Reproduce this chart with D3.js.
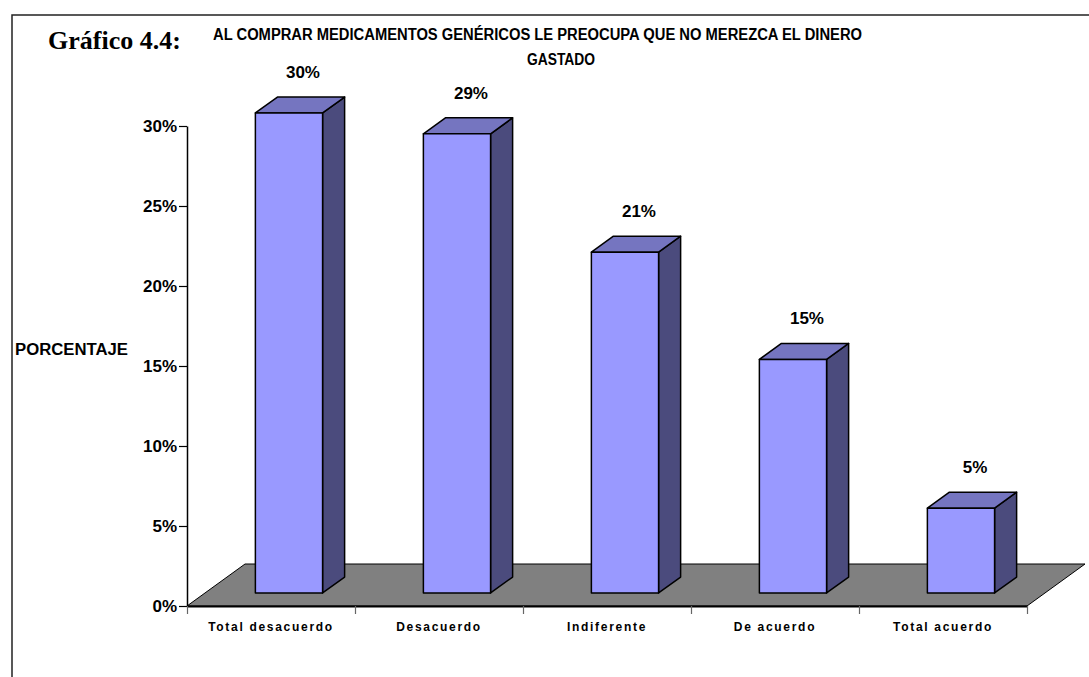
<!DOCTYPE html>
<meta charset="utf-8">
<style>
body { margin: 0; background: #fff; }
text { font-family: "Liberation Sans", Arial, sans-serif; font-weight: bold; fill: #000; }
</style>
<body>
<script src="https://d3js.org/d3.v7.min.js"></script>
<script>

var categories = ["Total desacuerdo", "Desacuerdo", "Indiferente", "De acuerdo", "Total acuerdo"];
var values = [30.0, 28.7, 21.3, 14.6, 5.3];
var valueLabels = ["30%", "29%", "21%", "15%", "5%"];
var yTicks = [0, 5, 10, 15, 20, 25, 30];

var width = 1089,
    height = 677;

var svg = d3.select("body").append("svg")
    .attr("width", width)
    .attr("height", height);

// frame (cut off at right and bottom like the original)
svg.append("rect")
    .attr("x", 12).attr("y", 15)
    .attr("width", 1200).attr("height", 1000)
    .attr("fill", "none")
    .attr("stroke", "#222")
    .attr("stroke-width", 1.5);

var y = d3.scaleLinear().domain([0, 30]).range([606, 126]);
var x = d3.scaleBand().domain(categories).range([187, 1027]);

// 3d depth of the floor
var depthX = 58, depthY = -42;
var f0 = 0.31, f1 = 0.69;  // bar front / back inside the depth
function pt(px, v, f) { return [px + f * depthX, y(v) + f * depthY]; }

// floor
var floor = [pt(x.range()[0], 0, 0), pt(x.range()[0], 0, 1), pt(x.range()[1], 0, 1), pt(x.range()[1], 0, 0)];
svg.append("polygon")
    .attr("points", floor.join(" "))
    .attr("fill", "#808080")
    .attr("stroke", "#000")
    .attr("stroke-width", 1);

// bars
var bw = x.bandwidth() * 0.4;
var bars = svg.append("g").selectAll("g")
    .data(categories)
    .enter().append("g");

bars.each(function(c, i) {
  var g = d3.select(this);
  var l = x(c) + (x.bandwidth() - bw) / 2, r = l + bw, v = values[i];
  var front = [pt(l, 0, f0), pt(l, v, f0), pt(r, v, f0), pt(r, 0, f0)];
  var side = [pt(r, 0, f0), pt(r, v, f0), pt(r, v, f1), pt(r, 0, f1)];
  var top = [pt(l, v, f0), pt(l, v, f1), pt(r, v, f1), pt(r, v, f0)];
  g.append("polygon").attr("points", side.join(" ")).attr("fill", "#4b4b7d");
  g.append("polygon").attr("points", top.join(" ")).attr("fill", "#7575c0");
  g.append("polygon").attr("points", front.join(" ")).attr("fill", "#9999ff");
  g.selectAll("polygon").attr("stroke", "#000").attr("stroke-width", 1.5).attr("stroke-linejoin", "round");
  var lx = pt(l + bw / 2 + 14, v, f0)[0], ly = pt(l, v, f1)[1];
  g.append("text")
      .attr("x", lx).attr("y", ly - 19)
      .attr("text-anchor", "middle")
      .style("font-size", "17px")
      .text(valueLabels[i]);
});

// y axis
var yAxis = svg.append("g")
    .attr("transform", "translate(187,0)")
    .call(d3.axisLeft(y).tickValues(yTicks).tickSize(8).tickSizeOuter(0).tickPadding(2)
      .tickFormat(function(d) { return d + "%"; }));
yAxis.select(".domain").attr("stroke", "#000").attr("stroke-width", 1.5);
yAxis.selectAll(".tick line").attr("stroke", "#000").attr("stroke-width", 1.2);
yAxis.selectAll(".tick text").style("font-size", "17px").style("font-family", "Liberation Sans, Arial, sans-serif").attr("fill", "#000");

// x axis: boundary ticks + centered labels
var xb = d3.scaleLinear().domain([0, categories.length]).range(x.range());
var xAxis = svg.append("g")
    .attr("transform", "translate(0,606)")
    .call(d3.axisBottom(xb).tickValues(d3.range(categories.length + 1)).tickSize(8).tickSizeOuter(0).tickFormat(""));
xAxis.select(".domain").attr("stroke", "#000").attr("stroke-width", 2);
xAxis.selectAll(".tick line").attr("stroke", "#666").attr("stroke-width", 1.2);

svg.append("g").selectAll("text")
    .data(categories)
    .enter().append("text")
    .attr("x", function(d) { return x(d) + x.bandwidth() / 2; })
    .attr("y", 631)
    .attr("text-anchor", "middle")
    .style("font-size", "12px")
    .style("letter-spacing", "1.7px")
    .text(function(d) { return d; });

// titles
svg.append("text")
    .attr("x", 48).attr("y", 49)
    .style("font-family", "Liberation Serif, 'Times New Roman', serif")
    .style("font-size", "26px")
    .text("Gráfico 4.4:");

svg.append("text")
    .attr("x", 213).attr("y", 40)
    .attr("textLength", 649).attr("lengthAdjust", "spacingAndGlyphs")
    .style("font-size", "16px")
    .text("AL COMPRAR MEDICAMENTOS GENÉRICOS LE PREOCUPA QUE NO MEREZCA EL DINERO");

svg.append("text")
    .attr("x", 527).attr("y", 65)
    .attr("textLength", 68).attr("lengthAdjust", "spacingAndGlyphs")
    .style("font-size", "16px")
    .text("GASTADO");

svg.append("text")
    .attr("x", 15).attr("y", 355)
    .attr("textLength", 113).attr("lengthAdjust", "spacingAndGlyphs")
    .style("font-size", "16px")
    .text("PORCENTAJE");

</script>
